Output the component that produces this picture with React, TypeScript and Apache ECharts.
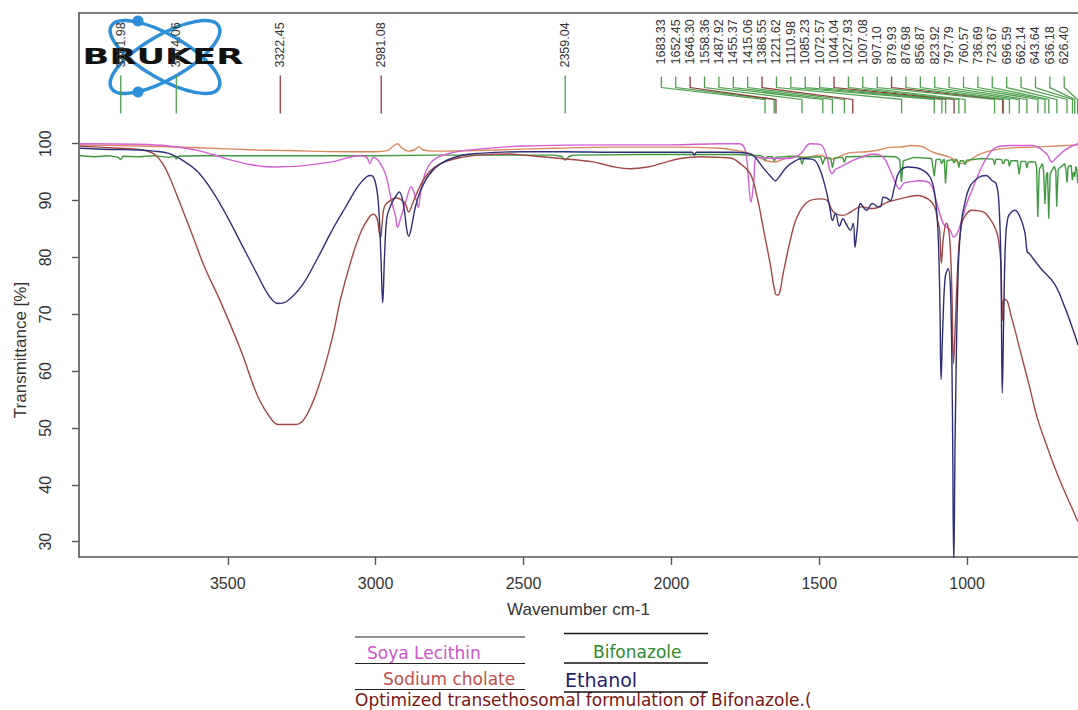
import React, { useEffect, useRef } from 'react';
import * as echarts from 'echarts';

const xTicks = [3500, 3000, 2500, 2000, 1500, 1000];
const yTicks = [30, 40, 50, 60, 70, 80, 90, 100];

const soyaLecithin: [number, number][] = [
  [4000, 100.0], [3800, 99.9], [3700, 99.6], [3600, 98.8], [3500, 97.3], [3420, 96.3], [3340, 95.9],
  [3250, 96.1], [3150, 96.8], [3050, 97.9], [3030, 97.6], [3019, 96.5], [3008, 97.6], [2990, 97.0],
  [2967, 94.7], [2944, 89.4], [2932, 87.1], [2926, 85.3], [2915, 87.0], [2897, 90.0], [2880, 92.4],
  [2862, 90.0], [2856, 88.8], [2845, 92.4], [2816, 96.5], [2758, 98.2], [2641, 99.1], [2500, 99.6],
  [2200, 99.8], [2000, 99.8], [1834, 100.0], [1770, 100.0], [1750, 98.8], [1739, 93.5], [1731, 89.7],
  [1722, 93.0], [1711, 97.6], [1655, 97.4], [1600, 97.4], [1564, 98.2], [1530, 100.0], [1497, 99.9],
  [1474, 97.6], [1465, 95.5], [1457, 94.7], [1445, 95.5], [1429, 95.9], [1384, 97.1], [1360, 97.6],
  [1317, 98.2], [1283, 97.6], [1260, 95.3], [1238, 92.6], [1228, 92.0], [1215, 93.0], [1193, 93.3],
  [1159, 93.5], [1125, 93.0], [1102, 89.5], [1080, 85.9], [1057, 84.8], [1046, 83.6], [1029, 84.8],
  [1001, 89.5], [979, 92.4], [956, 95.3], [933, 97.6], [900, 99.4], [855, 99.7], [780, 99.7],
  [731, 98.2], [714, 96.8], [697, 97.6], [663, 99.1], [625, 100.0],
];

const bifonazole: [number, number][] = [
  [4000, 97.9], [3950, 97.7], [3900, 97.9], [3870, 97.6], [3862, 97.2], [3855, 97.8], [3800, 97.7],
  [3750, 97.9], [3700, 97.6], [3680, 97.8], [3674, 97.3], [3668, 97.8], [3600, 97.9], [3400, 97.9],
  [3200, 97.9], [3000, 97.9], [2800, 98.0], [2600, 98.0], [2400, 98.0], [2372, 97.8], [2359, 97.1],
  [2345, 97.8], [2330, 98.0], [2100, 98.1], [1900, 98.1], [1780, 98.1], [1700, 97.9], [1689, 97.7],
  [1683, 97.1], [1677, 97.7], [1658, 97.7], [1652, 96.9], [1647, 97.6], [1600, 97.8], [1565, 97.7],
  [1558, 96.4], [1551, 97.6], [1495, 97.7], [1488, 96.4], [1481, 97.5], [1462, 97.5], [1455, 95.8],
  [1449, 97.5], [1421, 97.6], [1415, 96.7], [1409, 97.7], [1300, 97.8], [1240, 97.7], [1228, 97.2],
  [1222, 93.3], [1216, 97.0], [1180, 97.6], [1120, 97.4], [1111, 94.3], [1105, 97.2], [1092, 97.3],
  [1086, 96.5], [1080, 97.2], [1077, 97.2], [1073, 93.0], [1068, 97.0], [1050, 97.2], [1044, 96.6],
  [1038, 97.3], [1032, 97.0], [1028, 95.8], [1023, 97.0], [1012, 97.0], [1007, 96.3], [1002, 97.1],
  [950, 97.4], [912, 97.3], [907, 96.3], [902, 97.3], [883, 97.2], [880, 96.6], [877, 96.5],
  [872, 97.2], [861, 97.1], [857, 96.0], [852, 97.0], [830, 97.0], [824, 94.6], [818, 96.9],
  [802, 96.9], [798, 95.7], [793, 96.8], [770, 96.8], [765, 96.0], [761, 87.1], [756, 95.5],
  [745, 96.5], [741, 95.0], [737, 89.4], [732, 94.5], [728, 95.0], [724, 86.8], [719, 94.8],
  [705, 96.0], [700, 95.2], [697, 88.9], [692, 95.5], [670, 96.5], [666, 95.5], [662, 93.2],
  [658, 96.0], [648, 96.2], [644, 93.6], [640, 95.0], [636, 94.2], [632, 96.0], [629, 95.5],
  [626, 93.0], [625, 93.5],
];

const sodiumCholate: [number, number][] = [
  [4000, 99.8], [3800, 99.6], [3600, 99.3], [3400, 98.9], [3300, 98.8], [3100, 98.6], [3000, 98.6],
  [2960, 98.8], [2940, 99.6], [2926, 100.0], [2912, 99.3], [2890, 98.7], [2870, 98.9], [2853, 99.5],
  [2840, 98.9], [2800, 98.7], [2600, 98.9], [2400, 99.2], [2200, 99.4], [2000, 99.4], [1834, 99.2],
  [1780, 98.8], [1750, 98.5], [1700, 97.5], [1680, 97.0], [1650, 96.8], [1620, 97.3], [1580, 97.8],
  [1540, 97.6], [1500, 98.0], [1460, 97.3], [1420, 98.0], [1400, 98.4], [1340, 98.6], [1300, 98.9],
  [1250, 99.4], [1226, 99.4], [1190, 99.7], [1160, 99.6], [1115, 98.5], [1057, 97.6], [1018, 96.5],
  [1000, 96.8], [956, 98.2], [889, 99.1], [776, 99.4], [700, 99.6], [625, 99.8],
];

const ethanol: [number, number][] = [
  [4000, 99.2], [3900, 99.0], [3800, 98.9], [3750, 98.7], [3700, 98.3], [3650, 97.0], [3600, 95.0],
  [3550, 91.5], [3500, 87.0], [3450, 82.0], [3400, 77.0], [3360, 73.2], [3330, 71.9], [3300, 72.3],
  [3250, 75.0], [3200, 79.5], [3150, 84.5], [3100, 89.0], [3060, 92.5], [3030, 94.2], [3015, 94.4],
  [3000, 93.0], [2990, 89.0], [2982, 80.0], [2976, 72.0], [2970, 80.0], [2962, 87.0], [2950, 89.0],
  [2935, 90.5], [2920, 91.5], [2905, 89.0], [2895, 85.0], [2888, 83.7], [2880, 85.0], [2865, 89.0],
  [2850, 91.5], [2820, 94.5], [2780, 96.5], [2720, 97.8], [2650, 98.3], [2500, 98.6], [2360, 98.6],
  [2200, 98.5], [2000, 98.5], [1930, 98.5], [1922, 98.0], [1915, 98.5], [1800, 98.5], [1740, 98.3],
  [1720, 97.8], [1690, 95.8], [1660, 94.0], [1649, 93.5], [1635, 94.2], [1610, 95.9], [1580, 97.0],
  [1560, 97.4], [1520, 97.2], [1500, 95.8], [1480, 92.5], [1465, 89.0], [1455, 86.5], [1445, 87.8],
  [1432, 85.5], [1420, 86.8], [1408, 85.8], [1395, 84.8], [1385, 86.0], [1379, 81.8], [1372, 84.8],
  [1360, 89.5], [1340, 88.3], [1320, 89.5], [1305, 89.0], [1294, 88.9], [1283, 90.6], [1270, 90.4],
  [1260, 90.0], [1245, 92.5], [1230, 95.0], [1200, 95.9], [1160, 95.6], [1125, 94.1], [1108, 90.6],
  [1098, 84.0], [1092, 72.0], [1088, 58.5], [1082, 68.0], [1074, 76.5], [1064, 78.0], [1056, 74.0],
  [1050, 55.0], [1045, 26.0], [1040, 50.0], [1030, 78.0], [1020, 86.0], [1008, 89.5], [990, 92.5],
  [960, 94.1], [936, 94.4], [915, 93.5], [902, 93.0], [893, 90.0], [886, 80.0], [881, 56.1],
  [876, 70.0], [870, 83.0], [862, 87.0], [850, 88.0], [838, 88.3], [821, 87.1], [805, 84.5],
  [797, 81.0], [790, 80.7], [750, 78.0], [705, 75.4], [670, 71.3], [640, 67.0], [625, 64.6],
];

const formulation: [number, number][] = [
  [4000, 99.6], [3900, 99.3], [3800, 99.0], [3760, 98.5], [3740, 97.8], [3720, 96.5], [3700, 94.5],
  [3680, 92.0], [3650, 88.0], [3620, 84.0], [3580, 78.5], [3526, 72.4], [3456, 63.7], [3398, 55.5],
  [3352, 51.5], [3329, 50.6], [3271, 50.6], [3236, 52.0], [3189, 57.9], [3143, 66.6], [3120, 72.4],
  [3080, 80.0], [3048, 84.7], [3020, 87.2], [3008, 87.6], [2995, 86.8], [2988, 84.5], [2983, 83.5],
  [2978, 86.0], [2970, 89.0], [2950, 90.0], [2930, 90.5], [2910, 90.0], [2900, 89.5], [2888, 88.0],
  [2875, 89.5], [2850, 92.5], [2820, 95.0], [2780, 96.5], [2720, 97.5], [2650, 98.0], [2550, 98.2],
  [2500, 98.0], [2375, 97.4], [2264, 96.8], [2200, 96.0], [2139, 95.6], [2080, 95.9], [2037, 96.5],
  [1970, 97.4], [1900, 97.7], [1834, 97.6], [1800, 97.5], [1767, 96.5], [1733, 94.7], [1710, 90.6],
  [1688, 84.8], [1666, 78.9], [1648, 73.6], [1640, 73.4], [1620, 77.7], [1598, 83.0], [1575, 87.1],
  [1541, 89.7], [1497, 90.3], [1475, 90.1], [1452, 88.0], [1418, 87.4], [1400, 87.8], [1384, 88.3],
  [1361, 88.9], [1317, 88.6], [1271, 89.7], [1226, 90.3], [1168, 90.9], [1130, 90.2], [1110, 88.9],
  [1100, 86.5], [1093, 84.8], [1087, 79.0], [1080, 83.5], [1070, 86.0], [1060, 84.0], [1052, 75.0],
  [1046, 61.3], [1040, 68.0], [1030, 80.0], [1020, 85.5], [1006, 87.4], [983, 88.3], [960, 88.2],
  [936, 87.7], [902, 84.8], [890, 81.5], [885, 78.0], [881, 68.9], [877, 72.5], [870, 72.6],
  [850, 69.5], [821, 63.7], [790, 57.5], [764, 52.0], [735, 47.5], [705, 43.2], [675, 39.4],
  [647, 36.1], [625, 33.5],
];

const leftPeaks = [3861.98, 3674.06, 3322.45, 2981.08, 2359.04];
const rightPeaks = [
  1683.33, 1652.45, 1646.3, 1558.36, 1487.92, 1455.37, 1415.06, 1386.55, 1221.62, 1110.98,
  1085.23, 1072.57, 1044.04, 1027.93, 1007.08, 907.1, 879.93, 876.98, 856.87, 823.92,
  797.79, 760.57, 736.69, 723.67, 696.59, 662.14, 643.64, 636.18, 626.4,
];
const formulationPeaks = [3322.45, 2981.08, 1646.3, 1386.55, 1044.04, 879.93];

const legendLeft = ['Soya Lecithin', 'Sodium cholate'];
const legendRight = ['Bifonazole', 'Ethanol'];
const footnote = 'Optimized transethosomal formulation of Bifonazole.(';

const X_MIN = 625;
const X_MAX = 4003;
const Y_MIN = 27.3;
const Y_MAX = 123;
const SLOT_START = 2033.8;
const SLOT_STEP = 48.65;

const C_SOYA = '#d35fd3';
const C_BIF = '#3f9a3f';
const C_SODIUM = '#d98a5e';
const C_ETH = '#2f2f78';
const C_FORM = '#a24848';

export default function App() {
  const ref = useRef<HTMLDivElement>(null);

  useEffect(() => {
    document.body.style.margin = '0';
    const chart = echarts.init(ref.current!, null, { renderer: 'svg' });

    const peakData = [
      ...leftPeaks.map((w) => [w, w, 1]),
      ...rightPeaks.map((w, i) => [w, SLOT_START - i * SLOT_STEP, 0]),
    ];

    const renderPeak = (params: any, api: any) => {
      const w = api.value(0);
      const s = api.value(1);
      const isLeft = api.value(2) === 1;
      const red = formulationPeaks.indexOf(w) >= 0;
      const color = red ? '#8e3a3a' : '#4fa04f';
      const xa = api.coord([w, 100])[0];
      const xs = api.coord([s, 100])[0];
      const yc = (v: number) => api.coord([w, v])[1];
      const label = Number(w).toFixed(2);
      const children: any[] = [];
      const textStyle = { text: label, fill: '#333', font: '12.5px "Liberation Sans", Arial, sans-serif', align: 'left', verticalAlign: 'middle' };
      if (isLeft) {
        children.push({ type: 'text', x: xa, y: yc(113.4), rotation: Math.PI / 2, style: textStyle });
        children.push({
          type: 'polyline',
          shape: { points: [[xa, yc(112.0)], [xa, yc(105.33)]] },
          style: { stroke: color, fill: 'none', lineWidth: 1.3 },
        });
      } else {
        children.push({ type: 'text', x: xs, y: yc(113.94), rotation: Math.PI / 2, style: textStyle });
        children.push({
          type: 'polyline',
          shape: { points: [[xs, yc(111.83)], [xs, yc(109.89)], [xa, yc(107.79)], [xa, yc(105.33)]] },
          style: { stroke: color, fill: 'none', lineWidth: 1.3 },
        });
      }
      return { type: 'group', children };
    };

    const lineSeries = (name: string, data: [number, number][], color: string, smooth: number | boolean, z: number) => ({
      type: 'line',
      name,
      data,
      showSymbol: false,
      smooth,
      z,
      lineStyle: { color, width: 1.4 },
      itemStyle: { color },
    });

    const legendFont = '"DejaVu Sans", Verdana, sans-serif';
    const axisFont = '"Liberation Sans", Arial, sans-serif';

    chart.setOption({
      animation: false,
      backgroundColor: '#ffffff',
      grid: { left: 79, right: 0, top: 13, bottom: 153 },
      xAxis: [
        {
          type: 'value',
          inverse: true,
          min: X_MIN,
          max: X_MAX,
          name: 'Wavenumber cm-1',
          nameLocation: 'middle',
          nameGap: 44,
          nameTextStyle: { fontSize: 17, color: '#333', fontFamily: axisFont },
          axisLine: { show: true, lineStyle: { color: '#555', width: 1.6 } },
          axisTick: { show: true, length: 8, customValues: xTicks, lineStyle: { color: '#555', width: 1.4 } },
          axisLabel: { customValues: xTicks, margin: 18, fontSize: 16, color: '#333', fontFamily: axisFont, formatter: (v: number) => String(v) },
          splitLine: { show: false },
        },
        {
          type: 'value',
          position: 'top',
          inverse: true,
          min: X_MIN,
          max: X_MAX,
          axisLine: { show: true, lineStyle: { color: '#555', width: 1.6 } },
          axisTick: { show: false },
          axisLabel: { show: false },
          splitLine: { show: false },
        },
      ],
      yAxis: {
        type: 'value',
        min: Y_MIN,
        max: Y_MAX,
        axisLine: { show: true, lineStyle: { color: '#555', width: 1.6 } },
        axisTick: { show: true, length: 7, customValues: yTicks, lineStyle: { color: '#555', width: 1.4 } },
        axisLabel: { customValues: yTicks, rotate: 90, margin: 26, fontSize: 16, color: '#333', fontFamily: axisFont, formatter: (v: number) => String(v) },
        splitLine: { show: false },
      },
      series: [
        lineSeries('Sodium cholate', sodiumCholate, C_SODIUM, 0.4, 2),
        lineSeries('Bifonazole', bifonazole, C_BIF, false, 3),
        lineSeries('Soya Lecithin', soyaLecithin, C_SOYA, 0.4, 4),
        lineSeries('Optimized transethosomal formulation of Bifonazole', formulation, C_FORM, 0.4, 5),
        lineSeries('Ethanol', ethanol, C_ETH, 0.4, 6),
        {
          type: 'custom',
          name: 'peaks',
          data: peakData,
          renderItem: renderPeak,
          encode: { x: [0, 1] },
          clip: false,
          silent: true,
          z: 7,
        },
      ],
      graphic: [
        {
          type: 'text',
          x: 20,
          y: 350,
          rotation: Math.PI / 2,
          style: { text: 'Transmittance [%]', font: '17px ' + axisFont, fill: '#333', align: 'center', verticalAlign: 'middle' },
        },
        {
          type: 'group',
          z: 100,
          children: [
            { type: 'ellipse', x: 165, y: 57, rotation: -Math.PI / 6, shape: { cx: 0, cy: 0, rx: 62, ry: 22 }, style: { fill: 'none', stroke: '#2d8fd8', lineWidth: 3.5 } },
            { type: 'ellipse', x: 165, y: 57, rotation: Math.PI / 6, shape: { cx: 0, cy: 0, rx: 62, ry: 22 }, style: { fill: 'none', stroke: '#2d8fd8', lineWidth: 3.5 } },
            { type: 'circle', shape: { cx: 138, cy: 21, r: 5.5 }, style: { fill: '#2d8fd8' } },
            { type: 'circle', shape: { cx: 138, cy: 92, r: 5.5 }, style: { fill: '#2d8fd8' } },
            {
              type: 'text',
              x: 163,
              y: 57,
              scaleX: 1.6,
              style: { text: 'BRUKER', font: '900 22px "DejaVu Sans", Arial, sans-serif', fill: '#111', align: 'center', verticalAlign: 'middle' },
            },
          ],
        },
        { type: 'line', shape: { x1: 355, y1: 637, x2: 525, y2: 637 }, style: { stroke: '#222', lineWidth: 1.2 } },
        { type: 'text', x: 367, y: 653, style: { text: legendLeft[0], font: '17px ' + legendFont, fill: '#cc55cc', verticalAlign: 'middle' } },
        { type: 'line', shape: { x1: 355, y1: 663.5, x2: 525, y2: 663.5 }, style: { stroke: '#222', lineWidth: 1.2 } },
        { type: 'text', x: 383, y: 679, style: { text: legendLeft[1], font: '17px ' + legendFont, fill: '#c0504d', verticalAlign: 'middle' } },
        { type: 'line', shape: { x1: 355, y1: 689.5, x2: 525, y2: 689.5 }, style: { stroke: '#222', lineWidth: 1.2 } },
        { type: 'text', x: 355, y: 700, style: { text: footnote, font: '17px ' + legendFont, fill: '#7a1616', verticalAlign: 'middle' } },
        { type: 'line', shape: { x1: 564, y1: 633.5, x2: 708, y2: 633.5 }, style: { stroke: '#111', lineWidth: 1.4 } },
        { type: 'text', x: 593, y: 652, style: { text: legendRight[0], font: '17px ' + legendFont, fill: '#2e8b2e', verticalAlign: 'middle' } },
        { type: 'line', shape: { x1: 564, y1: 663, x2: 708, y2: 663 }, style: { stroke: '#111', lineWidth: 1.4 } },
        { type: 'text', x: 565, y: 680, style: { text: legendRight[1], font: '19px ' + legendFont, fill: '#1f1f6e', verticalAlign: 'middle' } },
        { type: 'line', shape: { x1: 564, y1: 692, x2: 708, y2: 692 }, style: { stroke: '#111', lineWidth: 1.4 } },
      ],
    });

    return () => chart.dispose();
  }, []);

  return <div ref={ref} style={{ position: 'fixed', left: 0, top: 0, width: 1078, height: 710, background: '#fff' }} />;
}
